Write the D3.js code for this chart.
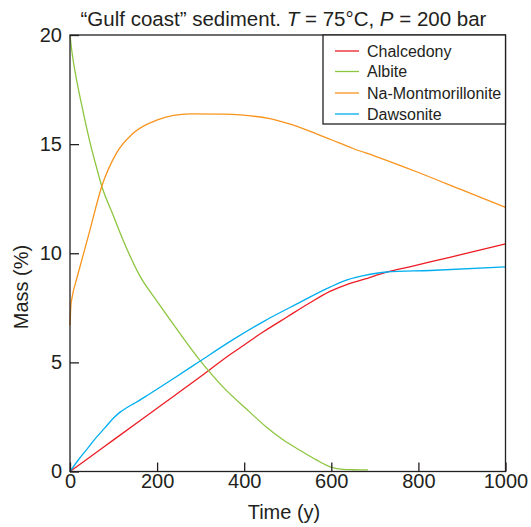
<!DOCTYPE html>
<html>
<head>
<meta charset="utf-8">
<script src="https://cdn.jsdelivr.net/npm/d3@7"></script>
<style>
  html, body { margin: 0; padding: 0; background: #fff; }
  svg { display: block; font-family: "Liberation Sans", Arial, Helvetica, sans-serif; }
</style>
</head>
<body>
<svg id="chart" width="531" height="527"></svg>
<script>
// ---- data ----
const xTicks = [0, 200, 400, 600, 800, 1000];
const yTicks = [0, 5, 10, 15, 20];
const seriesNames = ["Chalcedony", "Albite", "Na-Montmorillonite", "Dawsonite"];
const seriesColors = ["#ed1c24", "#8dc63f", "#f7941d", "#00aeef"];

const chalcedonyT = [0, 50, 100, 200, 300, 367, 400, 444, 500, 550, 597, 640, 674, 727, 780, 827, 900, 1000];
const chalcedonyM = [0, 0.72, 1.45, 2.9, 4.35, 5.35, 5.8, 6.4, 7.1, 7.72, 8.25, 8.6, 8.8, 9.14, 9.38, 9.6, 9.95, 10.43];

const albiteT = [0, 4, 8, 15, 30, 46, 60, 73, 100, 122, 161, 200, 230, 298, 350, 413, 450, 490, 530, 566, 601, 627, 650, 684];
const albiteM = [20, 19.3, 18.75, 17.96, 16.5, 15.07, 14.0, 13.07, 11.7, 10.6, 8.94, 7.8, 6.95, 5.1, 3.9, 2.72, 2.05, 1.44, 0.95, 0.53, 0.19, 0.1, 0.08, 0.07];

const montT = [0, 2, 5, 15, 30, 46, 73, 107, 145, 199, 276, 352, 459, 500, 550, 600, 650, 700, 800, 900, 1000];
const montM = [6.7, 7.6, 8.0, 8.8, 9.9, 11.08, 13.07, 14.6, 15.5, 16.1, 16.39, 16.37, 16.17, 15.95, 15.6, 15.2, 14.8, 14.45, 13.7, 12.9, 12.1];

const dawsT = [0, 20, 40, 60, 80, 100, 115, 130, 150, 180, 237, 298, 367, 444, 521, 597, 640, 674, 727, 827, 1000];
const dawsM = [0, 0.55, 1.05, 1.55, 2.0, 2.45, 2.72, 2.92, 3.15, 3.52, 4.25, 5.05, 5.95, 6.87, 7.68, 8.45, 8.8, 8.97, 9.14, 9.21, 9.38];

const seriesT = [chalcedonyT, albiteT, montT, dawsT];
const seriesM = [chalcedonyM, albiteM, montM, dawsM];

// ---- layout ----
const svg = d3.select("#chart");
const pLeft = 70, pRight = 505.5, pTop = 35, pBottom = 471.5;
const x = d3.scaleLinear().domain([0, 1000]).range([pLeft, pRight]);
const y = d3.scaleLinear().domain([0, 20]).range([pBottom, pTop]);
const axisColor = "#231f20";
const textColor = "#231f20";

// lines
const line = d3.line().x(d => x(d[0])).y(d => y(d[1])).curve(d3.curveMonotoneX);
const plot = svg.append("g");
seriesNames.forEach((name, i) => {
  const pts = seriesT[i].map((t, j) => [t, seriesM[i][j]]);
  plot.append("path")
    .datum(pts)
    .attr("fill", "none")
    .attr("stroke", seriesColors[i])
    .attr("stroke-width", 1.3)
    .attr("d", line);
});

// axes
const xAxis = d3.axisBottom(x).tickValues(xTicks).tickFormat(d3.format("d")).tickSize(-9).tickPadding(2);
const gx = svg.append("g").attr("transform", `translate(0,${pBottom})`).call(xAxis);
gx.select(".domain").remove();
gx.selectAll(".tick line").attr("stroke", axisColor).attr("stroke-width", 1.3);
gx.selectAll(".tick text").attr("fill", textColor).style("font-size", "20px");

const yAxis = d3.axisLeft(y).tickValues(yTicks).tickFormat(d3.format("d")).tickSize(-9).tickPadding(8);
const gy = svg.append("g").attr("transform", `translate(${pLeft},0)`).call(yAxis);
gy.select(".domain").remove();
gy.selectAll(".tick line").attr("stroke", axisColor).attr("stroke-width", 1.3);
gy.selectAll(".tick text").attr("fill", textColor).style("font-size", "20px");

// frame
svg.append("rect")
  .attr("x", pLeft).attr("y", pTop)
  .attr("width", pRight - pLeft).attr("height", pBottom - pTop)
  .attr("fill", "none").attr("stroke", axisColor).attr("stroke-width", 1.3);

// axis titles
svg.append("text")
  .attr("x", 284).attr("y", 519)
  .attr("text-anchor", "middle")
  .attr("fill", textColor)
  .style("font-size", "20px")
  .text("Time (y)");

svg.append("text")
  .attr("transform", "translate(28,287) rotate(-90)")
  .attr("text-anchor", "middle")
  .attr("fill", textColor)
  .style("font-size", "20px")
  .text("Mass (%)");

// title
const title = svg.append("text")
  .attr("x", 283.5).attr("y", 26)
  .attr("text-anchor", "middle")
  .attr("fill", textColor)
  .style("font-size", "20.5px");
title.append("tspan").text("\u201CGulf coast\u201D sediment. ");
title.append("tspan").style("font-style", "italic").text("T");
title.append("tspan").text(" = 75\u00B0C, ");
title.append("tspan").style("font-style", "italic").text("P");
title.append("tspan").text(" = 200 bar");

// legend
const legLeft = 323, legTop = pTop, legW = pRight - 323, legH = 89;
svg.append("rect")
  .attr("x", legLeft).attr("y", legTop)
  .attr("width", legW).attr("height", legH)
  .attr("fill", "#fff").attr("stroke", axisColor).attr("stroke-width", 1.3);
const rowY = [51, 71.5, 93, 114];
seriesNames.forEach((name, i) => {
  const g = svg.append("g");
  g.append("line")
    .attr("x1", 335).attr("x2", 359)
    .attr("y1", rowY[i]).attr("y2", rowY[i])
    .attr("stroke", seriesColors[i]).attr("stroke-width", 1.3);
  g.append("text")
    .attr("x", 367).attr("y", rowY[i])
    .attr("dy", "0.35em")
    .attr("fill", textColor)
    .style("font-size", "16px")
    .text(name);
});
</script>
</body>
</html>
